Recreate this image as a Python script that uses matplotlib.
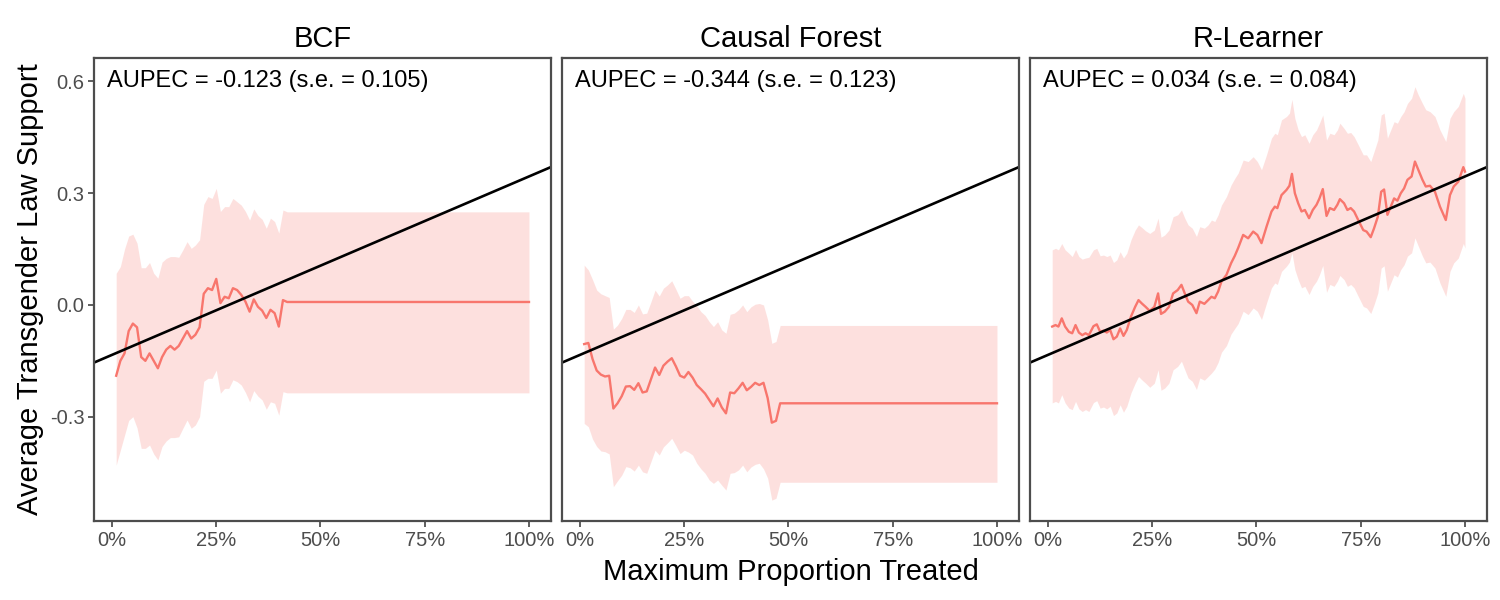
import matplotlib
matplotlib.use("Agg")
import matplotlib.pyplot as plt
from matplotlib.ticker import FixedLocator

plt.rcParams['font.family'] = ['Liberation Sans', 'DejaVu Sans']

# === Data ===
titles = ["BCF", "Causal Forest", "R-Learner"]
aupec = [-0.123, -0.344, 0.034]
aupec_se = [0.105, 0.123, 0.084]

# baseline (random assignment) line shared by all panels
base_intercept = -0.134
base_slope = 0.479

# BCF
bcf_x = [0.01, 0.02, 0.03, 0.04, 0.05, 0.06, 0.07, 0.08, 0.09, 0.10,
         0.11, 0.12, 0.13, 0.14, 0.15, 0.16, 0.17, 0.18, 0.19, 0.20,
         0.21, 0.22, 0.23, 0.24, 0.25, 0.26, 0.27, 0.28, 0.29, 0.30,
         0.31, 0.32, 0.33, 0.34, 0.35, 0.36, 0.37, 0.38, 0.39, 0.40,
         0.41, 0.42, 1.00]
bcf_mean = [-0.19, -0.15, -0.13, -0.07, -0.05, -0.06, -0.14, -0.15, -0.13, -0.15,
            -0.17, -0.14, -0.12, -0.11, -0.12, -0.11, -0.09, -0.07, -0.09, -0.08,
            -0.06, 0.03, 0.045, 0.04, 0.07, 0.005, 0.022, 0.018, 0.045, 0.04,
            0.027, 0.009, -0.018, 0.015, -0.005, -0.015, -0.035, -0.013, -0.022, -0.058,
            0.013, 0.008, 0.008]
bcf_lo = [-0.43, -0.39, -0.35, -0.31, -0.30, -0.33, -0.385, -0.385, -0.376, -0.40,
          -0.416, -0.38, -0.365, -0.356, -0.356, -0.354, -0.331, -0.309, -0.331, -0.322,
          -0.30, -0.205, -0.197, -0.197, -0.175, -0.237, -0.224, -0.224, -0.201, -0.206,
          -0.215, -0.235, -0.26, -0.23, -0.245, -0.255, -0.28, -0.26, -0.264, -0.296,
          -0.233, -0.236, -0.236]
bcf_hi = [0.085, 0.103, 0.15, 0.185, 0.19, 0.166, 0.10, 0.10, 0.114, 0.085,
          0.072, 0.115, 0.125, 0.13, 0.13, 0.128, 0.148, 0.17, 0.152, 0.161,
          0.175, 0.27, 0.291, 0.286, 0.313, 0.251, 0.264, 0.264, 0.286, 0.277,
          0.268, 0.251, 0.228, 0.258, 0.24, 0.23, 0.206, 0.233, 0.224, 0.193,
          0.255, 0.25, 0.25]

# Causal Forest
cf_x = [0.01, 0.02, 0.03, 0.04, 0.05, 0.06, 0.07, 0.08, 0.09, 0.10,
        0.11, 0.12, 0.13, 0.14, 0.15, 0.16, 0.17, 0.18, 0.19, 0.20,
        0.21, 0.22, 0.23, 0.24, 0.25, 0.26, 0.27, 0.28, 0.29, 0.30,
        0.31, 0.32, 0.33, 0.34, 0.35, 0.36, 0.37, 0.38, 0.39, 0.40,
        0.41, 0.42, 0.43, 0.44, 0.45, 0.46, 0.47, 0.48, 1.00]
cf_mean = [-0.105, -0.102, -0.145, -0.176, -0.187, -0.192, -0.19, -0.278, -0.264, -0.245,
           -0.219, -0.218, -0.228, -0.21, -0.235, -0.232, -0.20, -0.168, -0.188, -0.163,
           -0.152, -0.143, -0.165, -0.19, -0.195, -0.18, -0.195, -0.215, -0.226, -0.238,
           -0.255, -0.272, -0.251, -0.275, -0.291, -0.235, -0.237, -0.224, -0.209, -0.229,
           -0.22, -0.209, -0.215, -0.209, -0.25, -0.316, -0.311, -0.264, -0.264]
cf_lo = [-0.318, -0.327, -0.36, -0.38, -0.392, -0.394, -0.40, -0.488, -0.472, -0.457,
         -0.434, -0.437, -0.446, -0.43, -0.448, -0.452, -0.421, -0.39, -0.403, -0.381,
         -0.37, -0.358, -0.378, -0.399, -0.39, -0.395, -0.403, -0.425, -0.44, -0.452,
         -0.47, -0.479, -0.47, -0.484, -0.497, -0.452, -0.45, -0.443, -0.43, -0.448,
         -0.435, -0.428, -0.425, -0.44, -0.465, -0.524, -0.519, -0.476, -0.476]
cf_hi = [0.107, 0.094, 0.068, 0.04, 0.03, 0.025, 0.02, -0.065, -0.054, -0.036,
         -0.012, -0.012, -0.02, 0.0, -0.024, -0.022, 0.008, 0.04, 0.024, 0.045,
         0.054, 0.065, 0.042, 0.018, 0.025, 0.025, 0.01, -0.002, -0.018, -0.028,
         -0.045, -0.058, -0.045, -0.067, -0.076, -0.025, -0.022, -0.013, 0.0, -0.018,
         -0.005, 0.002, 0.004, 0.0, -0.04, -0.103, -0.098, -0.055, -0.055]

# R-Learner
rl_x = [0.010, 0.018, 0.025, 0.033, 0.041, 0.050, 0.058, 0.066, 0.074, 0.082,
        0.090, 0.098, 0.109, 0.117, 0.125, 0.133, 0.141, 0.149, 0.157, 0.165,
        0.173, 0.181, 0.189, 0.199, 0.209, 0.217, 0.225, 0.234, 0.244, 0.255,
        0.264, 0.271, 0.280, 0.290, 0.300, 0.311, 0.320, 0.328, 0.336, 0.346,
        0.356, 0.364, 0.375, 0.384, 0.392, 0.400, 0.408, 0.416, 0.428, 0.439,
        0.448, 0.456, 0.468, 0.480, 0.492, 0.502, 0.512, 0.524, 0.536, 0.544,
        0.550, 0.560, 0.572, 0.579, 0.585, 0.592, 0.600, 0.608, 0.616, 0.626,
        0.635, 0.644, 0.651, 0.659, 0.668, 0.676, 0.686, 0.694, 0.700, 0.710,
        0.718, 0.726, 0.734, 0.744, 0.756, 0.764, 0.774, 0.782, 0.791, 0.799,
        0.806, 0.814, 0.822, 0.830, 0.838, 0.846, 0.854, 0.862, 0.872, 0.880,
        0.888, 0.898, 0.906, 0.916, 0.928, 0.940, 0.954, 0.964, 0.973, 0.984,
        0.996, 1.000]
rl_mean = [-0.058, -0.054, -0.058, -0.036, -0.058, -0.072, -0.076, -0.054, -0.074, -0.081,
           -0.076, -0.081, -0.057, -0.052, -0.072, -0.069, -0.074, -0.067, -0.092, -0.085,
           -0.063, -0.083, -0.067, -0.031, -0.005, 0.013, 0.004, -0.005, -0.016, -0.005,
           0.031, -0.024, -0.018, -0.005, 0.031, 0.040, 0.054, 0.031, 0.009, 0.000,
           -0.022, 0.009, 0.003, 0.013, 0.022, 0.018, 0.036, 0.063, 0.081, 0.112,
           0.132, 0.153, 0.188, 0.179, 0.197, 0.188, 0.166, 0.210, 0.251, 0.264,
           0.260, 0.295, 0.309, 0.320, 0.352, 0.300, 0.273, 0.251, 0.255, 0.233,
           0.255, 0.269, 0.286, 0.311, 0.239, 0.260, 0.255, 0.269, 0.284, 0.273,
           0.255, 0.260, 0.251, 0.228, 0.201, 0.197, 0.182, 0.206, 0.237, 0.304,
           0.310, 0.242, 0.264, 0.286, 0.280, 0.300, 0.313, 0.336, 0.345, 0.385,
           0.363, 0.336, 0.318, 0.320, 0.304, 0.264, 0.228, 0.295, 0.318, 0.331,
           0.370, 0.358]
rl_lo = [-0.263, -0.259, -0.263, -0.241, -0.263, -0.277, -0.281, -0.259, -0.279, -0.286,
         -0.281, -0.286, -0.262, -0.257, -0.277, -0.274, -0.279, -0.272, -0.297, -0.290,
         -0.268, -0.288, -0.272, -0.236, -0.210, -0.192, -0.201, -0.210, -0.221, -0.210,
         -0.174, -0.229, -0.223, -0.210, -0.174, -0.165, -0.151, -0.174, -0.196, -0.205,
         -0.227, -0.196, -0.202, -0.192, -0.183, -0.172, -0.154, -0.127, -0.109, -0.078,
         -0.063, -0.050, -0.017, -0.026, -0.008, -0.017, -0.039, 0.005, 0.046, 0.059,
         0.055, 0.090, 0.104, 0.115, 0.140, 0.095, 0.068, 0.046, 0.050, 0.028,
         0.050, 0.064, 0.081, 0.106, 0.034, 0.055, 0.050, 0.064, 0.079, 0.068,
         0.050, 0.055, 0.046, 0.023, -0.004, -0.008, -0.023, 0.001, 0.032, 0.099,
         0.105, 0.037, 0.059, 0.081, 0.075, 0.095, 0.108, 0.131, 0.140, 0.180,
         0.158, 0.131, 0.113, 0.115, 0.099, 0.059, 0.023, 0.090, 0.113, 0.126,
         0.165, 0.153]
rl_hi = [0.148, 0.152, 0.148, 0.165, 0.148, 0.139, 0.130, 0.149, 0.130, 0.123,
         0.126, 0.128, 0.148, 0.152, 0.132, 0.134, 0.130, 0.134, 0.114, 0.121,
         0.143, 0.126, 0.139, 0.175, 0.201, 0.215, 0.208, 0.199, 0.192, 0.201,
         0.233, 0.182, 0.188, 0.201, 0.237, 0.242, 0.255, 0.233, 0.215, 0.206,
         0.184, 0.210, 0.206, 0.215, 0.228, 0.224, 0.242, 0.268, 0.291, 0.322,
         0.340, 0.354, 0.389, 0.385, 0.398, 0.385, 0.363, 0.403, 0.448, 0.461,
         0.457, 0.497, 0.506, 0.515, 0.552, 0.501, 0.470, 0.452, 0.457, 0.434,
         0.457, 0.470, 0.488, 0.510, 0.443, 0.461, 0.457, 0.470, 0.488, 0.474,
         0.461, 0.463, 0.452, 0.430, 0.403, 0.403, 0.385, 0.412, 0.443, 0.510,
         0.515, 0.448, 0.470, 0.492, 0.488, 0.506, 0.519, 0.541, 0.555, 0.586,
         0.564, 0.541, 0.524, 0.519, 0.506, 0.470, 0.439, 0.501, 0.519, 0.533,
         0.568, 0.555]

panels = [
    (bcf_x, bcf_mean, bcf_lo, bcf_hi),
    (cf_x, cf_mean, cf_lo, cf_hi),
    (rl_x, rl_mean, rl_lo, rl_hi),
]

x_ticks = [0, 0.25, 0.5, 0.75, 1.0]
x_ticklabels = ["0%", "25%", "50%", "75%", "100%"]
y_ticks = [-0.3, 0.0, 0.3, 0.6]
y_ticklabels = ["-0.3", "0.0", "0.3", "0.6"]

red = "#F8766D"
frame = "#4D4D4D"
ticktxt = "#4D4D4D"

# === Figure ===
fig = plt.figure(figsize=(15, 6), dpi=100)
lefts = [94, 562, 1030]

for i, (x, m, lo, hi) in enumerate(panels):
    ax = fig.add_axes([lefts[i] / 1500, 79 / 600, 457 / 1500, 463 / 600])
    ax.fill_between(x, lo, hi, color=red, alpha=0.22, linewidth=0)
    ax.plot(x, m, color=red, lw=1.7)
    ax.axline((0, base_intercept), slope=base_slope, color="black", lw=1.9)

    ax.set_xlim(-0.0432, 1.0528)
    ax.set_ylim(-0.580, 0.663)
    ax.xaxis.set_major_locator(FixedLocator(x_ticks))
    ax.set_xticklabels(x_ticklabels)
    ax.yaxis.set_major_locator(FixedLocator(y_ticks))
    ax.set_yticklabels(y_ticklabels)
    ax.tick_params(axis="both", colors="#333333", labelcolor=ticktxt,
                   labelsize=14.5, length=4, width=1.1, pad=3)
    if i > 0:
        ax.tick_params(axis="y", left=False, labelleft=False)
    for s in ax.spines.values():
        s.set_color(frame)
        s.set_linewidth(1.6)

    ax.set_title(titles[i], fontsize=21, pad=8)
    ax.text(-0.012, 0.6, f"AUPEC = {aupec[i]:.3f} (s.e. = {aupec_se[i]:.3f})",
            fontsize=17, va="center", ha="left")

fig.text(0.527, 0.047, "Maximum Proportion Treated", fontsize=21,
         ha="center", va="center")
fig.text(0.02, 0.5175, "Average Transgender Law Support", fontsize=21,
         ha="center", va="center", rotation=90)

fig.savefig("out.png", dpi=100)
